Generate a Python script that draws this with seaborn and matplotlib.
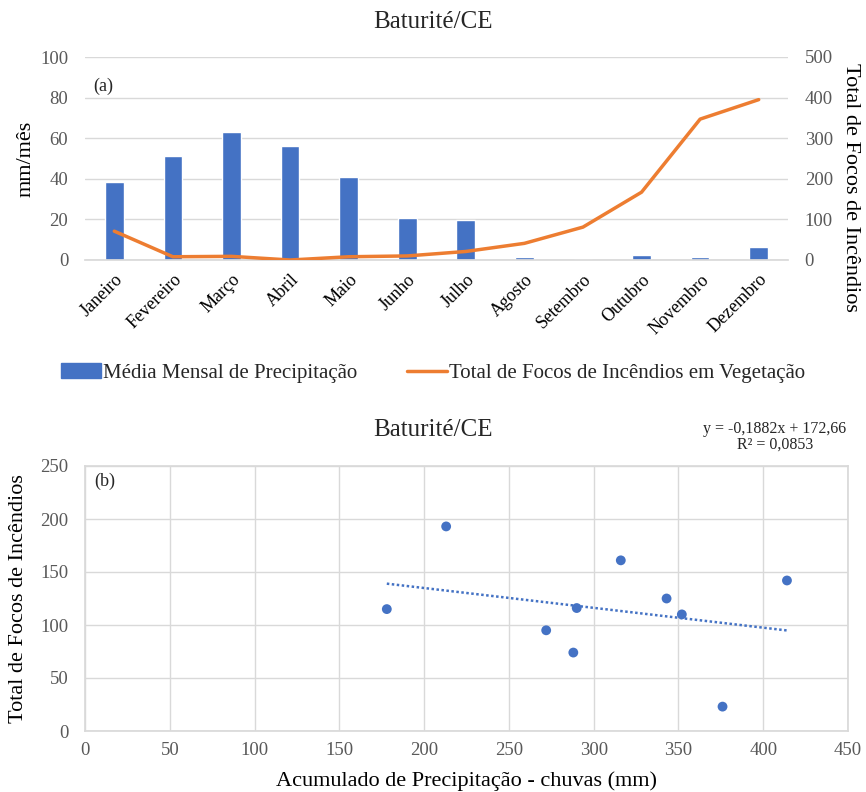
import numpy as np
import pandas as pd
import matplotlib
matplotlib.use("Agg")
import matplotlib.pyplot as plt
import seaborn as sns
from matplotlib.patches import Patch
from matplotlib.lines import Line2D

# ---- data ----
months = ["Janeiro", "Fevereiro", "Março", "Abril", "Maio", "Junho", "Julho",
          "Agosto", "Setembro", "Outubro", "Novembro", "Dezembro"]
precip = [38.5, 51, 63.2, 56, 41, 20.5, 19.5, 1.3, 0.7, 2.5, 1.3, 6.6]
focos = [71, 8, 9, 0, 8, 10, 21, 41, 81, 167, 347, 395]

acum_precip = [178, 213, 272, 288, 290, 316, 343, 352, 376, 414]
total_focos = [115, 193, 95, 74, 116, 161, 125, 110, 23, 142]

sns.set_theme(style="white")
plt.rcParams["font.family"] = ["Liberation Serif", "DejaVu Serif"]

BLUE = "#4472C4"
ORANGE = "#ED7D31"
GRAY = "#595959"
GRID = "#D9D9D9"

fig = plt.figure(figsize=(8.66, 7.92), dpi=100)

# ---------- top chart ----------
ax1 = fig.add_axes([85 / 866, 1 - 260 / 792, 703 / 866, 203 / 792])
df1 = pd.DataFrame({"mes": months, "precip": precip, "focos": focos})
sns.barplot(data=df1, x="mes", y="precip", color=BLUE, width=0.32, ax=ax1, saturation=1)
ax1.set_ylim(0, 100)
ax1.set_yticks(np.arange(0, 101, 20))
ax1.set_xlim(-0.5, 11.5)
ax1.set_xlabel("")
ax1.set_ylabel("mm/mês", fontsize=16, color="black")
ax1.yaxis.set_label_coords(-0.071, 0.5)
ax1.grid(axis="y", color=GRID, lw=1)
ax1.set_axisbelow(True)
for s in ["top", "right", "left"]:
    ax1.spines[s].set_visible(False)
ax1.spines["bottom"].set_color(GRID)
ax1.tick_params(axis="y", labelsize=13.5, colors=GRAY, length=0, pad=12)
ax1.tick_params(axis="x", labelsize=13, length=0, labelcolor="black", pad=8)
plt.setp(ax1.get_xticklabels(), rotation=45, ha="right", rotation_mode="anchor")
ax1.text(0.012, 0.9, "(a)", transform=ax1.transAxes, fontsize=13, va="top")

ax2 = ax1.twinx()
sns.lineplot(x=np.arange(len(months)), y=df1["focos"], color=ORANGE, lw=2.5, ax=ax2)
ax2.set_ylim(0, 500)
ax2.set_yticks(np.arange(0, 501, 100))
ax2.set_ylabel("Total de Focos de Incêndios", fontsize=16, rotation=270, color="black",
               va="center")
ax2.yaxis.set_label_coords(1.089, 0.355)
for s in ["top", "right", "left", "bottom"]:
    ax2.spines[s].set_visible(False)
ax2.tick_params(axis="y", labelsize=13.5, colors=GRAY, length=0, pad=12)
ax2.set_xlim(-0.5, 11.5)

fig.text(0.5, 1 - 22 / 792, "Baturité/CE", ha="center", va="center", fontsize=18)

handles = [Patch(facecolor=BLUE, edgecolor=BLUE),
           Line2D([0], [0], color=ORANGE, lw=2.5)]
fig.legend(handles, ["Média Mensal de Precipitação", "Total de Focos de Incêndios em Vegetação"],
           loc="center", bbox_to_anchor=(0.5, 1 - 373 / 792), ncol=2, frameon=False,
           fontsize=15, handlelength=1.9, handletextpad=0.1, columnspacing=2.4)

# ---------- bottom chart ----------
ax3 = fig.add_axes([85 / 866, 1 - 731 / 792, 763 / 866, 265 / 792])
df2 = pd.DataFrame({"x": acum_precip, "y": total_focos})
sns.regplot(data=df2, x="x", y="y", ci=None, ax=ax3,
            scatter_kws=dict(color=BLUE, s=50, alpha=1, edgecolor="none", zorder=3),
            line_kws=dict(color=BLUE, lw=1.8, ls=(0, (1, 1))))
ax3.set_xlim(0, 450)
ax3.set_ylim(0, 250)
ax3.set_xticks(np.arange(0, 451, 50))
ax3.set_yticks(np.arange(0, 251, 50))
ax3.grid(True, color=GRID, lw=1)
ax3.set_axisbelow(True)
for s in ["top", "right", "left", "bottom"]:
    ax3.spines[s].set_color(GRID)
ax3.tick_params(axis="y", labelsize=13.5, colors=GRAY, length=0, pad=12)
ax3.tick_params(axis="x", labelsize=13.5, colors=GRAY, length=0, pad=8)
ax3.set_xlabel("Acumulado de Precipitação - chuvas (mm)", fontsize=16, color="black")
ax3.xaxis.set_label_coords(0.5, -0.152)
ax3.set_ylabel("Total de Focos de Incêndios", fontsize=16, color="black")
ax3.yaxis.set_label_coords(-0.075, 0.5)
ax3.text(0.012, 0.975, "(b)", transform=ax3.transAxes, fontsize=13, va="top")

fig.text(0.5, 1 - 430 / 792, "Baturité/CE", ha="center", va="center", fontsize=18)
fig.text(775 / 866, 1 - 437 / 792, "y = -0,1882x + 172,66\nR² = 0,0853", ha="center",
         va="center", fontsize=11.5, linespacing=1.0)

fig.savefig("out.png", dpi=100)
